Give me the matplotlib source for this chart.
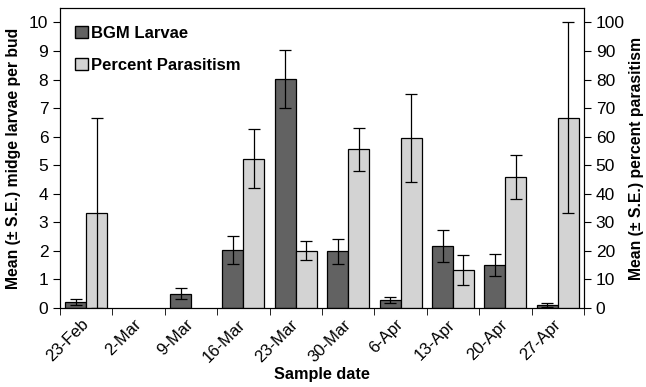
import matplotlib.pyplot as plt
import numpy as np
from matplotlib.patches import Patch

plt.rcParams['font.family'] = ['Liberation Sans', 'DejaVu Sans']

dates = ['23-Feb', '2-Mar', '9-Mar', '16-Mar', '23-Mar', '30-Mar',
         '6-Apr', '13-Apr', '20-Apr', '27-Apr']
larvae = [0.2, 0, 0.5, 2.03, 8.02, 1.98, 0.27, 2.17, 1.5, 0.1]
larvae_se = [0.1, 0, 0.2, 0.5, 1.0, 0.45, 0.1, 0.55, 0.38, 0.07]
parasitism = [33.3, 0, 0, 52.3, 20.0, 55.6, 59.5, 13.3, 45.9, 66.7]
parasitism_se = [33.3, 0, 0, 10.4, 3.3, 7.5, 15.5, 5.3, 7.7, 33.3]

fig = plt.figure(figsize=(6.46, 3.87), dpi=100)
ax = fig.add_axes([0.093, 0.204, 0.811, 0.775])
ax2 = ax.twinx()

x = np.arange(len(dates))
w = 0.4
dark = '#626262'
light = '#d3d3d3'
ekw = dict(ecolor='black', capsize=4, elinewidth=0.9, capthick=0.9)

# zero values: no bar, no error bar
lx = [xi for xi, v in zip(x, larvae) if v > 0]
ax.bar([xi - w / 2 for xi in lx], [v for v in larvae if v > 0], w,
       color=dark, edgecolor='black', linewidth=0.9)
ax.errorbar([xi - w / 2 for xi in lx], [v for v in larvae if v > 0],
            yerr=[s for v, s in zip(larvae, larvae_se) if v > 0],
            fmt='none', **ekw)
px = [xi for xi, v in zip(x, parasitism) if v > 0]
ax2.bar([xi + w / 2 for xi in px], [v for v in parasitism if v > 0], w,
        color=light, edgecolor='black', linewidth=0.9)
ax2.errorbar([xi + w / 2 for xi in px], [v for v in parasitism if v > 0],
             yerr=[s for v, s in zip(parasitism, parasitism_se) if v > 0],
             fmt='none', **ekw)

ax.set_xlim(-0.5, len(dates) - 0.5)
ax.set_ylim(0, 10.5)
ax2.set_ylim(0, 105)
ax.set_yticks(range(0, 11))
ax2.set_yticks(range(0, 101, 10))

ax.set_xticks(x)
ax.set_xticklabels(dates, rotation=45, ha='right', va='center',
                   rotation_mode='anchor')
ax.set_xticks(np.arange(-0.5, len(dates), 1), minor=True)
ax.tick_params(axis='x', which='major', length=0, labelsize=12, pad=10)
ax.tick_params(axis='x', which='minor', length=5, direction='out')
ax.tick_params(axis='y', labelsize=12.5, length=5)
ax2.tick_params(axis='y', labelsize=12.5, length=5)

ax.set_xlabel('Sample date', fontsize=11.7, fontweight='bold', labelpad=2)
ax.set_ylabel('Mean (± S.E.) midge larvae per bud', fontsize=11.3,
              fontweight='bold', labelpad=6)
ax2.set_ylabel('Mean (± S.E.) percent parasitism', fontsize=11.3,
               fontweight='bold', labelpad=3)

handles = [Patch(facecolor=dark, edgecolor='black', label='BGM Larvae'),
           Patch(facecolor=light, edgecolor='black', label='Percent Parasitism')]
ax.legend(handles=handles, loc='upper left', frameon=False,
          prop={'weight': 'bold', 'size': 12}, handlelength=0.75,
          handleheight=0.75, handletextpad=0.2, labelspacing=1.0,
          bbox_to_anchor=(0.0, 0.99))

fig.savefig('out.png', dpi=100)
